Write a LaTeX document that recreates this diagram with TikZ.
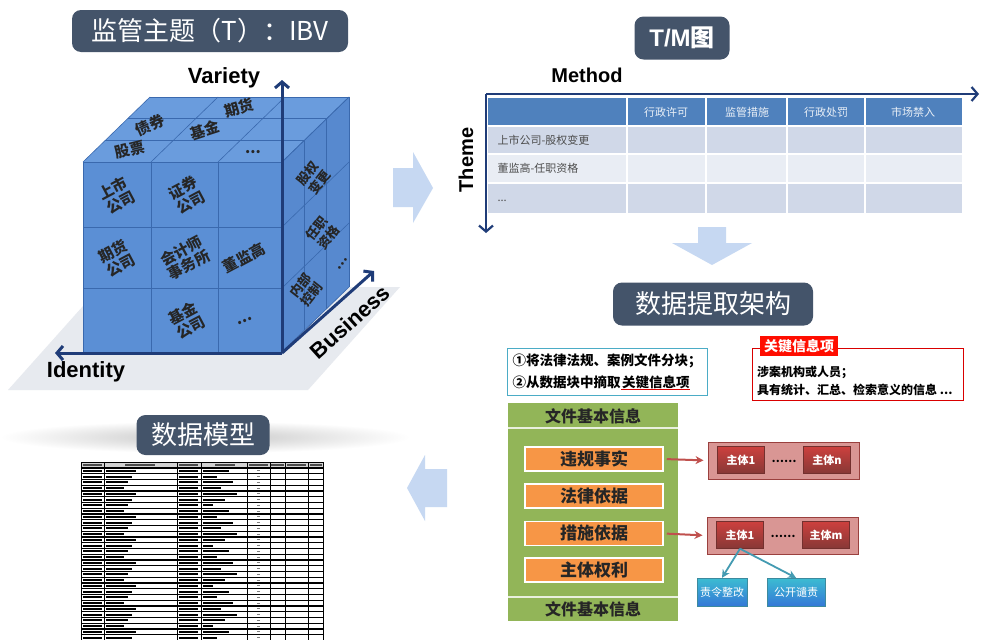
\documentclass[tikz,border=0pt]{standalone}
\usepackage{fontspec}
\setmainfont{Liberation Sans}
\newfontfamily\cjk{Noto Sans CJK SC}
\usepackage{xcolor}
\definecolor{pill}{HTML}{44546A}
\definecolor{navy}{HTML}{1F3C78}
\definecolor{cubef}{HTML}{5B8FD5}
\definecolor{cubet}{HTML}{6A9CDD}
\definecolor{cuber}{HTML}{5789CF}
\definecolor{cubel}{HTML}{3A69AE}
\definecolor{ground}{HTML}{E7EAEF}
\definecolor{barrow}{HTML}{C6D8F2}
\definecolor{thead}{HTML}{4F81BD}
\definecolor{trowa}{HTML}{D0D8E8}
\definecolor{trowb}{HTML}{E9EDF4}
\definecolor{pgreen}{HTML}{92B558}
\definecolor{porange}{HTML}{F79646}
\definecolor{pred}{HTML}{C0504D}
\definecolor{pteal}{HTML}{4BACC6}
\usetikzlibrary{arrows.meta}
\usetikzlibrary{positioning}
\usetikzlibrary{calc}

\begin{document}
\begin{tikzpicture}[x=1pt,y=-1pt,
    pill/.style={fill=pill,rounded corners=9pt,text=white,inner sep=0pt,font=\cjk\fontsize{26}{28}\selectfont},
    axis/.style={draw=navy,line width=3pt,-{Straight Barb[length=6pt,width=14pt]}},
    lbl/.style={font=\bfseries\fontsize{22}{24}\selectfont,inner sep=0pt},
    grid/.style={draw=cubel,line width=0.6pt},
    ctxt/.style={font=\cjk\bfseries\fontsize{15}{16}\selectfont,align=center,text=black!85,inner sep=0pt},
    rtxt/.style={ctxt,font=\cjk\bfseries\fontsize{13}{15}\selectfont,rotate=52},
    thtxt/.style={font=\cjk\fontsize{11}{12}\selectfont,text=white!88!thead},
    trtxt/.style={font=\cjk\fontsize{11}{12}\selectfont,text=black!70,anchor=west},
    obox/.style={fill=porange,draw=white,line width=1.5pt,minimum width=138pt,minimum height=24pt,inner sep=0pt,font=\cjk\bfseries\fontsize{17}{18}\selectfont,text=black!85},
    rgroup/.style={fill=pred!60,draw=pred!80!black,line width=1pt,minimum width=151pt,minimum height=37pt},
    rbox/.style={top color=pred!80!red,bottom color=pred!70!black,draw=pred!60!black,minimum width=47pt,minimum height=27pt,inner sep=0pt,text=white,font=\cjk\bfseries\fontsize{11}{12}\selectfont},
    tbox/.style={top color=pteal!80!cyan,bottom color=pteal!70!blue,draw=pteal!80!black,minimum height=28pt,inner sep=0pt,text=white,font=\cjk\fontsize{11}{12}\selectfont},
    link/.style={draw=pred,line width=2pt,-{Stealth[length=8pt,width=8pt]}},
    tlink/.style={draw=pteal!90!black,line width=1.8pt,-{Stealth[length=8pt,width=8pt]}}]
  \useasboundingbox (0,0) rectangle (981,640);
  \fill[white] (0,0) rectangle (981,640);

  \node[pill,minimum width=276pt,minimum height=42pt](ibv) at (210,31) {监管主题（T）：IBV};
  \fill[ground] (8,390) -- (100,287) -- (400,287) -- (308,390) -- cycle;
  \fill[cubet] (83,162) -- (150,97) -- (349,97) -- (282,162) -- cycle;
  \fill[cuber] (282,162) -- (349,97) -- (349,287) -- (282,352) -- cycle;
  \fill[cubef] (83,162) rectangle (282,352);
  \foreach \x in {151,218} \draw[grid] (\x,162) -- (\x,352);
  \foreach \y in {227,288} \draw[grid] (83,\y) -- (282,\y);
  \foreach \x in {83,151,218,282} \draw[grid] (\x,162) -- ++(67,-65);
  \foreach \k in {1,2,3} \draw[grid] ($(83,162)+\k*(22.33,-21.67)$) -- ++(199,0);
  \foreach \y in {162,227,288,352} \draw[grid] (282,\y) -- ++(67,-65);
  \foreach \k in {1,2,3} \draw[grid] ($(282,162)+\k*(22.33,-21.67)$) -- ++(0,190);
  \draw[grid] (83,162) rectangle (282,352);

  \node[ctxt,rotate=28](f11) at (117,195) {上市\\公司};
  \node[ctxt,rotate=28](f12) at (187,195) {证券\\公司};
  \node[ctxt,rotate=28](f21) at (117,258) {期货\\公司};
  \node[ctxt,rotate=28](f22) at (185,258) {会计师\\事务所};
  \node[ctxt,rotate=28](f23) at (244,258) {董监高};
  \node[ctxt,rotate=28](f32) at (187,320) {基金\\公司};
  \node[ctxt,rotate=28](f33) at (245,321) {...};
  \node[ctxt,rotate=14](t1) at (130,150) {股票};
  \node[ctxt,rotate=24](t2) at (150,125) {债券};
  \node[ctxt,rotate=18](t3) at (205,130) {基金};
  \node[ctxt,rotate=16](t4) at (239,108) {期货};
  \node[ctxt](t5) at (253,152) {...};
  \node[rtxt](r1) at (314,178) {股权\\变更};
  \node[rtxt](r2) at (323,233) {任职\\资格};
  \node[rtxt](r3) at (306,290) {内部\\控制};
  \node[rtxt](r4) at (343,264) {...};

  \coordinate (o) at (282,353);
  \coordinate (vy) at (282,80);
  \coordinate (id) at (55,353);
  \coordinate (bs) at (374,271);
  \draw[axis] (o) -- (vy);
  \draw[axis] (o) -- (id);
  \draw[axis] (o) -- (bs);
  \node[lbl](variety) at (224,78) {Variety};
  \node[lbl](identity) at (86,372) {Identity};
  \node[lbl,rotate=42](business) at (350,322) {Business};

  \fill[barrow] (393,168) -- (413,168) -- (413,152) -- (433,188) -- (413,223) -- (413,207) -- (393,207) -- cycle;

  \node[pill,minimum width=95pt,minimum height=43pt,font=\bfseries\fontsize{24}{26}\selectfont](tm) at (682,38) {T/M\cjk 图};
  \node[lbl,font=\bfseries\fontsize{20}{22}\selectfont](method) at (587,75) {Method};
  \node[lbl,font=\bfseries\fontsize{20}{22}\selectfont,rotate=90](theme) at (466,160) {Theme};
  \fill[thead] (488,98) rectangle (962,126);
  \fill[trowa] (488,126) rectangle (962,154);
  \fill[trowb] (488,154) rectangle (962,183);
  \fill[trowa] (488,183) rectangle (962,213);
  \foreach \y in {126,154,183} \draw[white,line width=1.5pt] (488,\y) -- (962,\y);
  \foreach \x in {627,706,787,865} \draw[white,line width=1.5pt] (\x,98) -- (\x,213);
  \node[thtxt](h1) at (666,112) {行政许可};
  \node[thtxt](h2) at (747,112) {监管措施};
  \node[thtxt](h3) at (826,112) {行政处罚};
  \node[thtxt](h4) at (913,112) {市场禁入};
  \node[trtxt](w1) at (494,140) {上市公司-股权变更};
  \node[trtxt](w2) at (494,168) {董监高-任职资格};
  \node[trtxt](w3) at (494,201) {...};
  \coordinate (tmo) at (486,94);
  \coordinate (tmx) at (979,94);
  \coordinate (tmy) at (486,233);
  \draw[axis,line width=2.2pt] (tmo) -- (tmx);
  \draw[axis,line width=2.2pt] (tmo) -- (tmy);

  \fill[barrow] (698,227) -- (726,227) -- (726,243) -- (752,243) -- (712,265) -- (672,243) -- (698,243) -- cycle;
  \node[pill,minimum width=200pt,minimum height=43pt](arch) at (713,304) {数据提取架构};

  \node[draw=pteal,line width=1pt,minimum width=200pt,minimum height=47pt](steps) at (607,371.5) {};
  \node[font=\cjk\bfseries\fontsize{13.5}{15}\selectfont,anchor=west,inner sep=0.5pt](ln1) at (512,361) {①将法律法规、案例文件分块；};
  \node[font=\cjk\bfseries\fontsize{13.5}{15}\selectfont,anchor=west,inner sep=0.5pt](ln2a) at (512,382) {②从数据块中摘取};
  \node[font=\cjk\bfseries\fontsize{13.5}{15}\selectfont,inner sep=0.5pt,right=0pt of ln2a](ln2b) {关键信息项};
  \draw[red!85!black,line width=1.2pt] (ln2b.south west) -- (ln2b.south east);

  \node[draw=red!85!black,line width=1pt,minimum width=211pt,minimum height=52pt](keyb) at (857.5,374) {};
  \node[fill=red!90!orange,text=white,font=\cjk\bfseries\fontsize{14}{15}\selectfont,minimum width=78pt,minimum height=20pt,inner sep=0pt](keyt) at (799,346) {关键信息项};
  \node[font=\cjk\bfseries\fontsize{12}{13}\selectfont,anchor=west,inner sep=0pt](k1) at (757,372) {涉案机构或人员；};
  \node[font=\cjk\bfseries\fontsize{12}{13}\selectfont,anchor=west,inner sep=0pt](k2) at (757,390) {具有统计、汇总、检索意义的信息 ...};

  \fill[pgreen] (508,403) rectangle (678,621);
  \draw[white!80!pgreen,line width=1.5pt] (508,428) -- (678,428) (508,597) -- (678,597);
  \node[font=\cjk\bfseries\fontsize{16}{17}\selectfont,text=black!85](fh) at (593,416) {文件基本信息};
  \node[font=\cjk\bfseries\fontsize{16}{17}\selectfont,text=black!85](ff) at (593,609) {文件基本信息};
  \node[obox](o1) at (594,459) {违规事实};
  \node[obox](o2) at (594,496) {法律依据};
  \node[obox](o3) at (594,533.5) {措施依据};
  \node[obox](o4) at (594,570) {主体权利};

  \node[rgroup](g1) at (783.5,460.5) {};
  \node[rbox](s1a) at (741,460) {主体1};
  \node[rbox](s1n) at (827,460) {主体n};
  \node[font=\cjk\bfseries\fontsize{11}{12}\selectfont](d1) at (784,461) {……};
  \node[rgroup](g2) at (782.5,535.5) {};
  \node[rbox](s2a) at (740,535) {主体1};
  \node[rbox](s2m) at (826,535) {主体m};
  \node[font=\cjk\bfseries\fontsize{11}{12}\selectfont](d2) at (783,536) {……};
  \draw[link,shorten <=3pt,shorten >=4pt] (o1.east) -- (g1.west);
  \draw[link,shorten <=3pt,shorten >=4pt] (o3.east) -- (g2.west);

  \node[tbox,minimum width=50pt](zl) at (722,592) {责令整改};
  \node[tbox,minimum width=58pt](gk) at (796,592) {公开谴责};
  \draw[tlink] (s2a.south) -- (zl.north);
  \draw[tlink] (s2a.south) -- (gk.north);

  \fill[barrow] (447,469) -- (425,469) -- (425,455) -- (407,488) -- (425,521) -- (425,507) -- (447,507) -- cycle;

  \shade[inner color=gray!45,outer color=white] (205,437) ellipse [x radius=205,y radius=16];
  \node[pill,minimum width=133pt,minimum height=40pt](model) at (203,435) {数据模型};

  \fill[gray!35] (81,462) rectangle (323,468);
  \foreach \c in {81,104,177,201,247,270,285,308,323} \draw[line width=0.6pt] (\c,462) -- (\c,640);
  \draw[line width=0.6pt] (81,462) -- (323,462);
  \foreach \k in {0,...,29} \draw[line width=1.2pt] (81,468+5.75*\k) -- (323,468+5.75*\k);
  \foreach \k in {1,...,30}{
    \pgfmathsetmacro\yy{468+5.75*\k-2.9}
    \pgfmathsetmacro\la{18+4*mod(\k*7,4)}
    \pgfmathsetmacro\lb{10+4*mod(\k*11,7)}
    \draw[line width=2.2pt] (83,\yy) -- (102,\yy) (106,\yy) -- (106+\la,\yy) (179,\yy) -- (198,\yy) (203,\yy) -- (203+\lb,\yy);
    \draw[line width=0.8pt,gray] (257,\yy) -- (260,\yy);
  }
  \foreach \a/\b in {83/102,125/155,179/198,215/235,249/268,271/284,287/306,310/322}
    \draw[line width=1.6pt,black!70] (\a,465) -- (\b,465);
\end{tikzpicture}
\end{document}
